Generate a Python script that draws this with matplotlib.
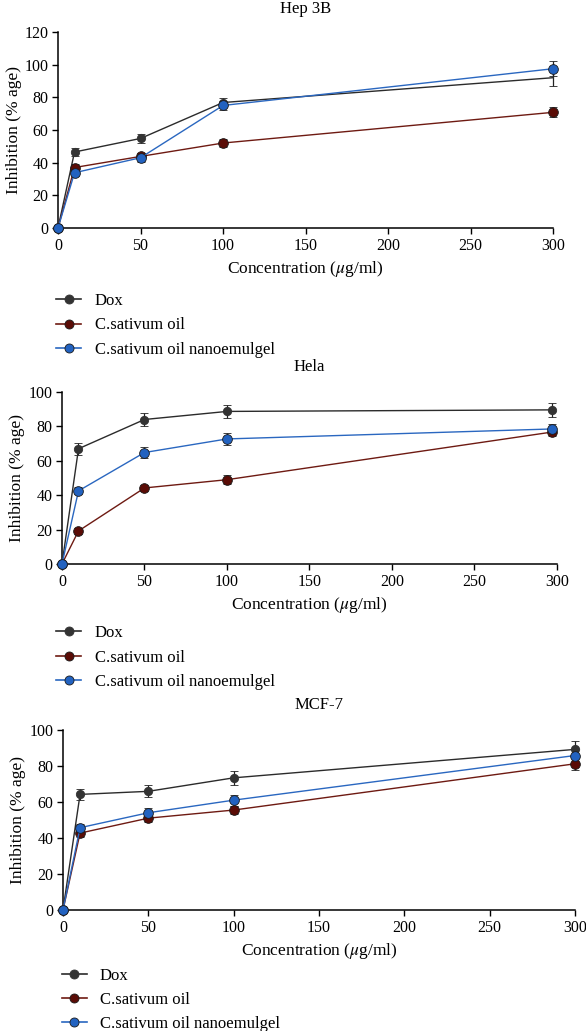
import matplotlib.pyplot as plt
from matplotlib.lines import Line2D
import numpy as np

plt.rcParams['font.family'] = ['Liberation Serif', 'DejaVu Serif']
plt.rcParams['mathtext.fontset'] = 'stix'

labels = ['Dox', 'C.sativum oil', 'C.sativum oil nanoemulgel']
colors = ['#2b2b2b', '#6e1a12', '#2a67c0']
mfc = ['#333333', '#5a0c06', '#2262c0']

# Hep 3B
hep_x = [0, 10, 50, 100, 300]
hep_dox = [0, 46.5, 54.8, 76.8, 92]
hep_dox_err = [0, 2.5, 2.5, 3, 4.8]
hep_oil = [0, 37, 43.8, 52, 70.8]
hep_oil_err = [0, 2, 2, 2.5, 3]
hep_nano = [0, 33.8, 43, 75, 97.5]
hep_nano_err = [0, 2, 2.5, 3, 4.5]

# Hela
hela_x = [0, 10, 50, 100, 297]
hela_dox = [0, 67, 84, 88.7, 89.6]
hela_dox_err = [0, 3.5, 3.8, 4, 4]
hela_oil = [0, 19.2, 44.2, 49, 76.7]
hela_oil_err = [0, 1.5, 2, 2.5, 2.5]
hela_nano = [0, 42.5, 64.8, 72.7, 78.5]
hela_nano_err = [0, 2, 3, 3.5, 3]

# MCF-7
mcf_x = [0, 10, 50, 100, 300]
mcf_dox = [0, 64.2, 65.9, 73.4, 89.2]
mcf_dox_err = [0, 3.2, 3.3, 3.8, 4.8]
mcf_oil = [0, 42.7, 51, 55.5, 81.2]
mcf_oil_err = [0, 2, 2, 2.2, 3.5]
mcf_nano = [0, 45.7, 54, 61, 85.8]
mcf_nano_err = [0, 2.2, 2.5, 3, 3.5]

fig = plt.figure(figsize=(5.86, 10.31), dpi=100)

panels = [
    ('Hep 3B', [0.099, 0.7789, 0.845, 0.1901], 120, hep_x,
     [hep_dox, hep_oil, hep_nano], [hep_dox_err, hep_oil_err, hep_nano_err],
     0.7158, 0.096, 14),
    ('Hela', [0.1058, 0.4530, 0.8447, 0.1668], 100, hela_x,
     [hela_dox, hela_oil, hela_nano], [hela_dox_err, hela_oil_err, hela_nano_err],
     0.3935, 0.096, 15),
    ('MCF-7', [0.1075, 0.1174, 0.8737, 0.1746], 100, mcf_x,
     [mcf_dox, mcf_oil, mcf_nano], [mcf_dox_err, mcf_oil_err, mcf_nano_err],
     0.0615, 0.105, 15),
]

for title, pos, ymax, x, ys, errs, leg_y, leg_x, tpad in panels:
    ax = fig.add_axes(pos)
    handles = []
    for i in range(3):
        ms = 6 if i == 0 else 7
        mev = [0, 1, 2, 3] if (title == 'Hep 3B' and i == 0) else None
        mec = '#1a1a1a' if i else mfc[i]
        ax.errorbar(x, ys[i], yerr=errs[i], color=colors[i], ecolor='#222222',
                    elinewidth=0.9, capsize=2.8, capthick=0.9, lw=1.0,
                    marker='o', ms=ms, mfc=mfc[i], mec=mec,
                    mew=0.6, markevery=mev, clip_on=False, zorder=3)
        handles.append(Line2D([], [], color=colors[i], lw=1.2, marker='o', ms=6.5,
                              mfc=mfc[i], mec=mec, mew=0.6, label=labels[i]))
    ax.set_xlim(0, 300)
    ax.set_ylim(0, ymax)
    ax.set_xticks([0, 50, 100, 150, 200, 250, 300])
    ax.set_yticks(np.arange(0, ymax + 1, 20))
    for s in ['top', 'right']:
        ax.spines[s].set_visible(False)
    for s in ['left', 'bottom']:
        ax.spines[s].set_linewidth(1.1)
    ax.tick_params(direction='out', length=4, width=1.0, labelsize=11.5, pad=3)
    ax.set_title(title, fontsize=12, pad=tpad)
    ax.set_xlabel(r'Concentration ($\mu$g/ml)', fontsize=12.5, labelpad=4)
    ax.set_ylabel('Inhibition (% age)', fontsize=12.5, labelpad=2)
    ax.legend(handles=handles, loc='upper left', bbox_to_anchor=(leg_x, leg_y),
              bbox_transform=fig.transFigure,
              frameon=False, fontsize=12, handlelength=1.5, handletextpad=0.8,
              labelspacing=0.5, borderaxespad=0, borderpad=0)

plt.savefig('out.png', dpi=100)
